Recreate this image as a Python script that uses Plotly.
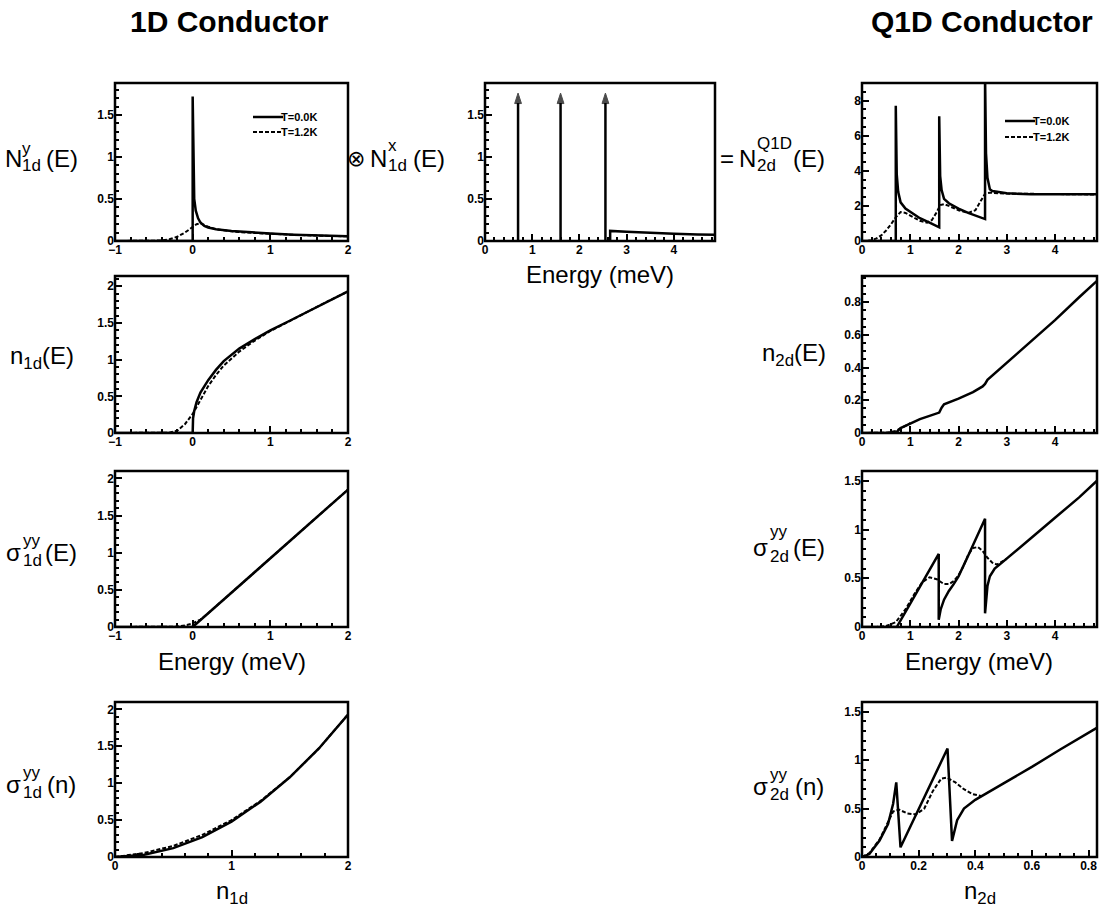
import plotly.graph_objects as go

W, H = 1109, 907
FONT = "Liberation Sans, Arial, Helvetica, sans-serif"

# ---------------- data ----------------
# 1D conductor: density of states N^y_1d(E)
A_E0 = [-1.0, 0.0, 0.0, 0.005, 0.01, 0.02, 0.04, 0.07, 0.1, 0.15, 0.2, 0.3, 0.5, 0.7, 1.0, 1.3, 1.6, 2.0]
A_N0 = [0.0, 0.0, 1.72, 1.2, 0.75, 0.5, 0.36, 0.27, 0.22, 0.18, 0.16, 0.14, 0.12, 0.105, 0.088, 0.075, 0.066, 0.058]
A_E1 = [-1.0, -0.5, -0.4, -0.3, -0.2, -0.1, 0.0, 0.05, 0.1, 0.15, 0.2, 0.3, 0.5, 0.7, 1.0, 1.3, 1.6, 2.0]
A_N1 = [0.0, 0.0, 0.005, 0.02, 0.05, 0.1, 0.17, 0.2, 0.21, 0.19, 0.17, 0.14, 0.115, 0.1, 0.085, 0.073, 0.064, 0.056]

# n_1d(E)
B_E0 = [-1.0, 0.0, 0.005, 0.02, 0.05, 0.1, 0.2, 0.3, 0.4, 0.6, 0.8, 1.0, 1.25, 1.5, 1.75, 2.0]
B_N0 = [0.0, 0.0, 0.2, 0.3, 0.42, 0.55, 0.72, 0.86, 0.98, 1.15, 1.28, 1.4, 1.53, 1.66, 1.8, 1.93]
B_E1 = [-1.0, -0.4, -0.3, -0.2, -0.1, 0.0, 0.05, 0.1, 0.2, 0.3, 0.4, 0.6, 0.8, 1.0, 1.25, 1.5, 1.75, 2.0]
B_N1 = [0.0, 0.0, 0.005, 0.03, 0.12, 0.26, 0.36, 0.46, 0.64, 0.79, 0.92, 1.11, 1.26, 1.39, 1.53, 1.66, 1.8, 1.93]

# sigma^yy_1d(E)
C_E0 = [-1.0, 0.0, 2.0]
C_S0 = [0.0, 0.0, 1.85]
C_E1 = [-1.0, -0.3, -0.2, -0.1, 0.0, 0.1, 0.2, 2.0]
C_S1 = [0.0, 0.0, 0.005, 0.02, 0.05, 0.1, 0.185, 1.85]

# sigma^yy_1d(n)
D_n0 = [0.0, 0.25, 0.5, 0.75, 1.0, 1.25, 1.5, 1.75, 2.0]
D_S0 = [0.0, 0.03, 0.12, 0.27, 0.48, 0.75, 1.08, 1.47, 1.93]
D_n1 = [0.0, 0.25, 0.5, 0.75, 1.0, 1.25, 1.5, 1.75, 2.0]
D_S1 = [0.0, 0.055, 0.15, 0.3, 0.5, 0.76, 1.08, 1.47, 1.93]

# N^x_1d(E): discrete levels and continuum
LEVELS_E = [0.7, 1.6, 2.55]
LEVEL_HEIGHT = 1.76
M_E = [2.65, 2.65, 3.0, 3.5, 4.0, 4.5, 4.87]
M_N = [0.0, 0.12, 0.11, 0.095, 0.085, 0.078, 0.074]

# Q1D conductor: N^Q1D_2d(E)
R1_E0 = [0.0, 0.7, 0.7, 0.71, 0.72, 0.75, 0.8, 0.9, 1.0, 1.2, 1.4, 1.6,
         1.6, 1.61, 1.62, 1.65, 1.7, 1.8, 2.0, 2.2, 2.4, 2.55,
         2.55, 2.57, 2.6, 2.65, 2.7, 3.0, 3.5, 4.0, 4.87]
R1_N0 = [0.0, 0.0, 7.7, 5.0, 3.8, 2.8, 2.2, 1.85, 1.65, 1.3, 1.05, 0.78,
         7.1, 4.6, 3.7, 2.9, 2.4, 2.15, 1.85, 1.6, 1.38, 1.25,
         9.5, 5.0, 3.6, 2.95, 2.85, 2.72, 2.66, 2.65, 2.66]
R1_E1 = [0.0, 0.1, 0.2, 0.3, 0.4, 0.5, 0.6, 0.7, 0.8, 0.9, 1.0, 1.2, 1.35, 1.45, 1.55,
         1.62, 1.7, 1.8, 2.0, 2.2, 2.35, 2.45, 2.55, 2.65, 3.0, 4.87]
R1_N1 = [0.0, 0.0, 0.05, 0.15, 0.32, 0.6, 0.95, 1.35, 1.65, 1.6, 1.45, 1.15, 1.05, 1.2, 1.65,
         2.05, 2.1, 2.0, 1.75, 1.6, 1.75, 2.2, 2.7, 2.75, 2.7, 2.65]

# n_2d(E)
R2_E0 = [0.0, 0.7, 0.8, 0.9, 1.0, 1.2, 1.4, 1.55, 1.6, 1.65, 1.7, 2.0, 2.3, 2.5, 2.55, 2.6,
         3.0, 3.5, 4.0, 4.5, 4.87]
R2_N0 = [0.0, 0.0, 0.03, 0.045, 0.06, 0.085, 0.105, 0.12, 0.125, 0.155, 0.175, 0.21, 0.25, 0.285, 0.3, 0.325,
         0.43, 0.56, 0.69, 0.83, 0.93]
R2_E1 = [0.0, 0.3, 0.5, 0.6, 0.7, 0.8, 0.9, 1.0]
R2_N1 = [0.0, 0.0, 0.002, 0.006, 0.013, 0.028, 0.045, 0.06]

# sigma^yy_2d(E)
R3_E0 = [0.0, 0.72, 1.0, 1.3, 1.59, 1.59, 1.63, 1.7, 1.8, 1.9, 2.0, 2.2, 2.4, 2.55,
         2.55, 2.57, 2.6, 2.65, 2.75, 2.85, 3.0, 3.5, 4.0, 4.5, 4.87]
R3_S0 = [0.0, 0.0, 0.24, 0.5, 0.75, 0.075, 0.18, 0.28, 0.37, 0.44, 0.52, 0.73, 0.95, 1.11,
         0.14, 0.3, 0.42, 0.52, 0.6, 0.64, 0.7, 0.91, 1.12, 1.33, 1.5]
R3_E1 = [0.0, 0.3, 0.5, 0.7, 0.9, 1.1, 1.25, 1.4, 1.55, 1.7, 1.8, 1.9, 2.0, 2.1, 2.2, 2.3,
         2.4, 2.5, 2.6, 2.7, 2.8, 3.0]
R3_S1 = [0.0, 0.0, 0.01, 0.05, 0.18, 0.35, 0.46, 0.51, 0.49, 0.44, 0.44, 0.47, 0.53, 0.62, 0.74, 0.81,
         0.82, 0.78, 0.71, 0.66, 0.64, 0.7]

# sigma^yy_2d(n)
R4_n0 = [0.0, 0.026, 0.062, 0.092, 0.11, 0.121, 0.136, 0.2, 0.25, 0.302, 0.318, 0.336, 0.36, 0.40,
         0.5, 0.6, 0.7, 0.833]
R4_S0 = [0.0, 0.03, 0.17, 0.34, 0.55, 0.77, 0.1, 0.49, 0.8, 1.12, 0.165, 0.38, 0.5, 0.59,
         0.76, 0.93, 1.11, 1.34]
R4_n1 = [0.0, 0.026, 0.062, 0.09, 0.11, 0.13, 0.16, 0.19, 0.22, 0.25, 0.28, 0.3, 0.33, 0.36, 0.39, 0.42]
R4_S1 = [0.0, 0.04, 0.18, 0.35, 0.47, 0.49, 0.45, 0.44, 0.5, 0.68, 0.81, 0.82, 0.77, 0.7, 0.65, 0.63]

LEGEND_NAMES = ["T=0.0K", "T=1.2K"]

# ---------------- layout helpers ----------------
def px(x):
    return x / W

def py(y):
    return 1 - y / H

LEFT_X = (115, 348)
MID_X = (485, 715)
RIGHT_X = (862, 1097)
ROWS = [(83, 241), (276, 433), (471, 627), (702, 857)]

panels = [
    # name, xdom, row, xrange, yrange, xdtick, xminor, ydtick, yminor
    ("A", LEFT_X, 0, [-1, 2], [0, 1.88], 1, 0.2, 0.5, 0.1),
    ("B", LEFT_X, 1, [-1, 2], [0, 2.14], 1, 0.2, 0.5, 0.1),
    ("C", LEFT_X, 2, [-1, 2], [0, 2.1], 1, 0.2, 0.5, 0.1),
    ("D", LEFT_X, 3, [0, 2], [0, 2.1], 1, 0.2, 0.5, 0.1),
    ("M", MID_X, 0, [0, 4.87], [0, 1.88], 1, 0.2, 0.5, 0.1),
    ("R1", RIGHT_X, 0, [0, 4.87], [0, 9], 1, 0.2, 2, 0.5),
    ("R2", RIGHT_X, 1, [0, 4.87], [0, 0.96], 1, 0.2, 0.2, 0.05),
    ("R3", RIGHT_X, 2, [0, 4.87], [0, 1.6], 1, 0.2, 0.5, 0.1),
    ("R4", RIGHT_X, 3, [0, 0.83], [0, 1.6], 0.2, 0.05, 0.5, 0.1),
]

layout = dict(
    width=W, height=H, autosize=False, showlegend=False,
    margin=dict(l=0, r=0, t=0, b=0, autoexpand=False),
    paper_bgcolor="white", plot_bgcolor="white",
    font=dict(family=FONT, color="black"),
)

shapes = []
axref = {}
NP = len(panels)
TICKS = dict(ticks="inside", ticklen=7, tickwidth=2, tickcolor="black",
             showline=False, showgrid=False, zeroline=False, automargin=False)
MINOR = dict(ticks="inside", ticklen=4, tickwidth=1.5, tickcolor="black")

for i, (name, xd, row, xr, yr, xdt, xmn, ydt, ymn) in enumerate(panels):
    k = "" if i == 0 else str(i + 1)
    ko = str(i + 1 + NP)  # overlay axes for the opposite (top / right) sides
    axref[name] = ("x" + k, "y" + k)
    yd = ROWS[row]
    tf = dict(family=FONT, size=12, color="black", weight="bold")
    layout["xaxis" + k] = dict(
        TICKS, domain=[px(xd[0]), px(xd[1])], range=xr, dtick=xdt, tick0=0,
        anchor="y" + k, side="bottom", tickfont=tf, minor=dict(MINOR, dtick=xmn),
    )
    layout["yaxis" + k] = dict(
        TICKS, domain=[py(yd[1]), py(yd[0])], range=yr, dtick=ydt, tick0=0,
        anchor="x" + k, side="left", tickfont=tf, minor=dict(MINOR, dtick=ymn),
    )
    # mirrored tick marks on top and right edges
    layout["xaxis" + ko] = dict(
        TICKS, overlaying="x" + k, anchor="y" + k, side="top", range=xr,
        dtick=xdt, tick0=0, showticklabels=False, minor=dict(MINOR, dtick=xmn),
    )
    layout["yaxis" + ko] = dict(
        TICKS, overlaying="y" + k, anchor="x" + k, side="right", range=yr,
        dtick=ydt, tick0=0, showticklabels=False, minor=dict(MINOR, dtick=ymn),
    )
    # panel frame
    shapes.append(dict(type="rect", xref="x" + k + " domain", yref="y" + k + " domain",
                       x0=0, x1=1, y0=0, y1=1, line=dict(color="black", width=2.5),
                       fillcolor="rgba(0,0,0,0)", layer="above"))

fig = go.Figure()

SOLID = dict(color="black", width=2.5)
DASH = dict(color="black", width=2, dash="4px,2px")

def add(name, x, y, line):
    xa, ya = axref[name]
    fig.add_trace(go.Scatter(x=x, y=y, mode="lines", line=line, xaxis=xa, yaxis=ya, name=name))

add("A", A_E0, A_N0, SOLID)
add("A", A_E1, A_N1, DASH)
add("B", B_E1, B_N1, DASH)
add("B", B_E0, B_N0, SOLID)
add("C", C_E1, C_S1, DASH)
add("C", C_E0, C_S0, SOLID)
add("D", D_n1, D_S1, DASH)
add("D", D_n0, D_S0, SOLID)

xa, ya = axref["M"]
for lv in LEVELS_E:
    fig.add_trace(go.Scatter(
        x=[lv, lv], y=[0, LEVEL_HEIGHT], mode="lines+markers", line=SOLID,
        marker=dict(symbol="arrow", size=[0, 11], angleref="previous", color="black",
                    line=dict(width=1, color="black")),
        xaxis=xa, yaxis=ya, name="level",
    ))
add("M", M_E, M_N, SOLID)

add("R1", R1_E0, R1_N0, SOLID)
add("R1", R1_E1, R1_N1, DASH)
add("R2", R2_E1, R2_N1, DASH)
add("R2", R2_E0, R2_N0, SOLID)
add("R3", R3_E1, R3_S1, DASH)
add("R3", R3_E0, R3_S0, SOLID)
add("R4", R4_n1, R4_S1, DASH)
add("R4", R4_n0, R4_S0, SOLID)

# ---------------- text ----------------
ann = []
SHIFT = 8  # annotation box padding offset for left-anchored texts

def T(s, x, y, size=24, anchor="left", bold=False, family=FONT):
    if anchor == "left":
        x = x - SHIFT
    ann.append(dict(
        text=s, x=px(x), y=py(y), xref="paper", yref="paper",
        xanchor=anchor, yanchor="middle", showarrow=False,
        font=dict(family=family, size=size, color="black", weight="bold" if bold else "normal"),
    ))

def stacked(base, sup, sub, tail, x0, xs, xt, yb, ysup, ysub, ss=17):
    T(base, x0, yb)
    T(sup, xs, ysup, size=ss)
    T(sub, xs, ysub, size=ss)
    T(tail, xt, yb)

def legend_key(x0, y0, dy):
    # legend keys (sample lines + labels) in figure coordinates
    for j, (nm, ln) in enumerate(zip(LEGEND_NAMES, [SOLID, DASH])):
        yy = y0 + j * dy
        shapes.append(dict(type="line", xref="paper", yref="paper",
                           x0=px(x0), x1=px(x0 + 30), y0=py(yy), y1=py(yy),
                           line=dict(color="black", width=ln["width"], dash=ln.get("dash", "solid"))))
        T(nm, x0 + 34, yy, size=11, bold=True)

legend_key(253, 117, 15)
legend_key(1005, 121, 16)

# titles
T("1D Conductor", 229, 22, size=30, anchor="center", bold=True)
T("Q1D Conductor", 982, 22, size=30, anchor="center", bold=True)

# row 1 labels
stacked("N", "y", "1d", "(E)", 11, 28, 52, 158, 148, 166)
T("⊗", 353, 158, size=22, family="DejaVu Sans, sans-serif")
stacked("N", "x", "1d", "(E)", 376, 394, 419, 158, 146, 166)
T("=", 726, 158, size=24)
stacked("N", "Q1D", "2d", "(E)", 745, 763, 799, 158, 143, 166)

# row 2 labels
T("n<sub>1d</sub>(E)", 16, 358)
T("n<sub>2d</sub>(E)", 768, 354)

# row 3 labels
stacked("σ", "yy", "1d", "(E)", 12, 29, 51, 552, 540, 560)
stacked("σ", "yy", "2d", "(E)", 759, 776, 799, 547, 531, 556)

# row 4 labels
stacked("σ", "yy", "1d", "(n)", 12, 29, 53, 784, 772, 792)
stacked("σ", "yy", "2d", "(n)", 759, 776, 801, 786, 774, 794)

# x-axis titles
T("Energy (meV)", 600, 274, anchor="center")
T("Energy (meV)", 232, 661, anchor="center")
T("Energy (meV)", 979, 661, anchor="center")
T("n<sub>1d</sub>", 232, 892, anchor="center")
T("n<sub>2d</sub>", 980, 892, anchor="center")

layout["annotations"] = ann
layout["shapes"] = shapes
fig.update_layout(layout)
fig.write_html("out.html")
